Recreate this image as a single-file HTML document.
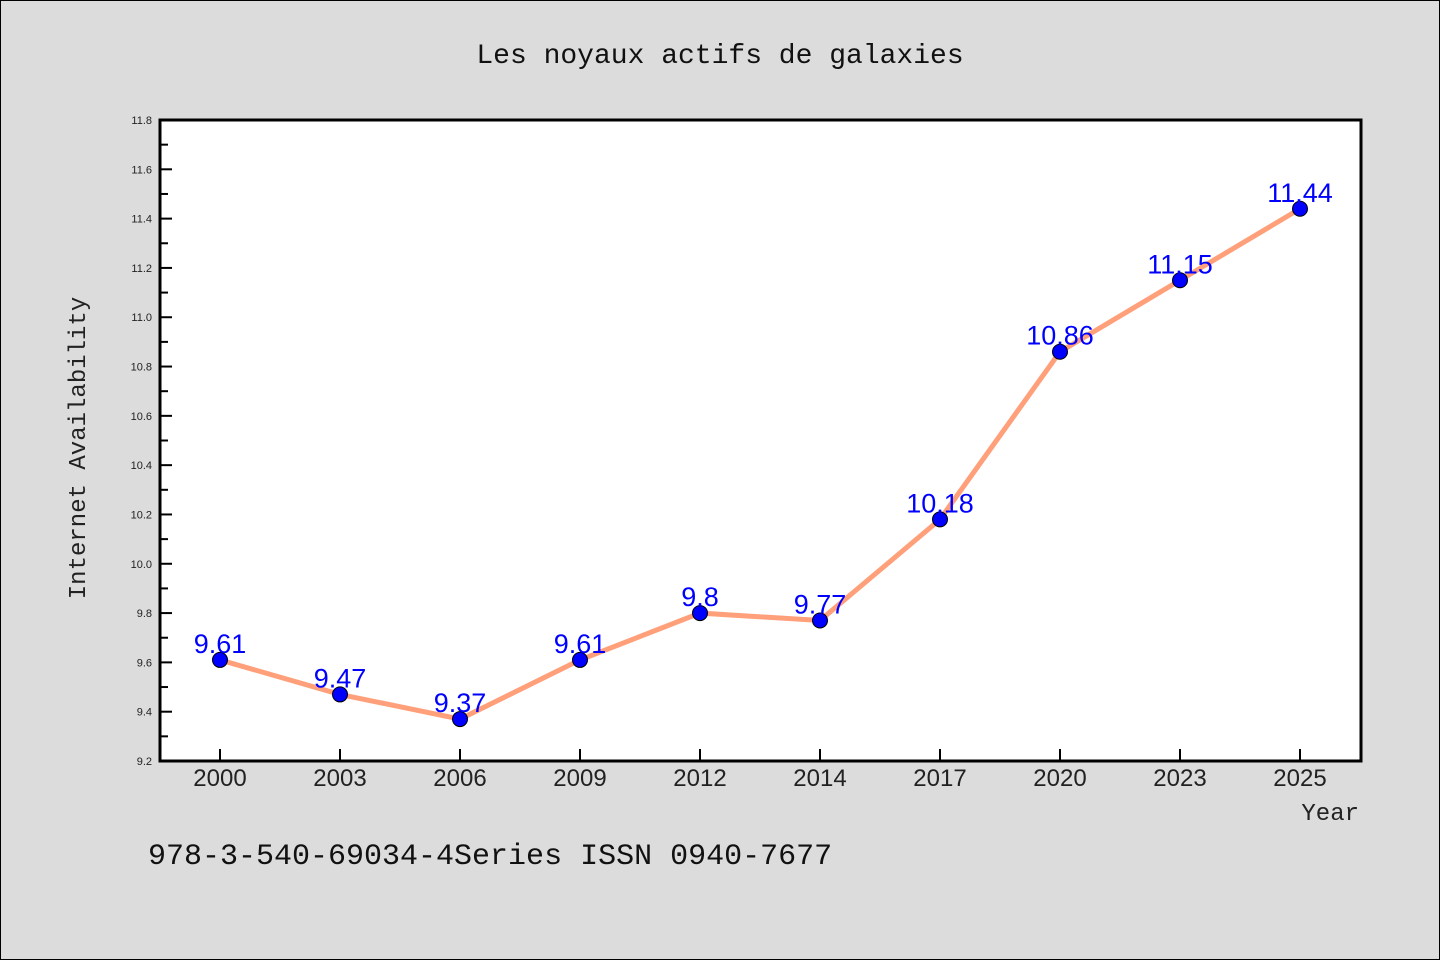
<!DOCTYPE html>
<html><head><meta charset="utf-8"><style>
body{margin:0;background:#dcdcdc;}
svg{display:block;font-family:"Liberation Mono","DejaVu Sans Mono","WenQuanYi Zen Hei",monospace;}
</style></head><body>
<svg id="chart" width="1440" height="960">
<rect x="0.5" y="0.5" width="1439" height="959" fill="#dcdcdc" stroke="#000"/>
<text x="720" y="63" text-anchor="middle" font-size="28" fill="#111">Les noyaux actifs de galaxies</text>
<rect x="160" y="120" width="1201" height="641" fill="#fff"/>
<g id="yticks"></g><g id="xticks"></g>
<g id="series"></g>
<path d="M160 120 H1361 V761 H160 Z" fill="none" stroke="#000" stroke-width="3"/>
<text transform="translate(85,448) rotate(-90)" text-anchor="middle" font-size="24" fill="#222">Internet Availability</text>
<text x="1359" y="820" text-anchor="end" font-size="24" fill="#222">Year</text>
<text x="148" y="864" font-size="30" fill="#111">978-3-540-69034-4Series ISSN 0940-7677</text>
</svg>
<script>
const years=["2000","2003","2006","2009","2012","2014","2017","2020","2023","2025"];
const values=[9.61,9.47,9.37,9.61,9.8,9.77,10.18,10.86,11.15,11.44];
const yTickLabels=["9.2","9.4","9.6","9.8","10.0","10.2","10.4","10.6","10.8","11.0","11.2","11.4","11.6","11.8"];
const yMin=9.2,yMax=11.8;
const ns="http://www.w3.org/2000/svg";
function y(v){return 761-(v-yMin)/(yMax-yMin)*641;}
function x(i){return 220+i*120;}
function mk(t,a,p){const e=document.createElementNS(ns,t);for(const k in a)e.setAttribute(k,a[k]);p.appendChild(e);return e;}
const yt=document.getElementById('yticks');
yTickLabels.forEach((l,i)=>{const v=parseFloat(l),yy=y(v);
 const ln=mk('line',{x1:160,x2:172,y1:yy,y2:yy,stroke:'#000','stroke-width':2},yt);
 
 
 const t=mk('text',{x:152,y:yy+4,'text-anchor':'end','font-size':11,fill:'#222','font-family':'Liberation Sans, sans-serif'},yt);t.textContent=l;
 
 
 if(i<yTickLabels.length-1){const m=y(v+0.1);const mn=mk('line',{x1:160,x2:168,y1:m,y2:m,stroke:'#000','stroke-width':2},yt);
 
 }
});
const xt=document.getElementById('xticks');
years.forEach((yr,i)=>{const ln=mk('line',{x1:x(i),x2:x(i),y1:761,y2:749,stroke:'#000','stroke-width':2},xt);
 
 
 const t=mk('text',{x:x(i),y:786,'text-anchor':'middle','font-size':24,fill:'#222','font-family':'Liberation Sans, sans-serif'},xt);t.textContent=yr;
 
 
});
const s=document.getElementById('series');
const line=mk('polyline',{points:values.map((v,i)=>x(i)+','+y(v)).join(' '),fill:'none',stroke:'#ffa07a','stroke-width':5},s);


values.forEach((v,i)=>{const c=mk('circle',{cx:x(i),cy:y(v),r:7.5,fill:'#0000ff',stroke:'#000','stroke-width':1},s);
 
 
 const t=mk('text',{x:x(i),y:y(v)-7,'text-anchor':'middle','font-size':27,fill:'#0000ff','font-family':'Liberation Sans, sans-serif'},s);t.textContent=String(v);
 
 
});
</script>
</body></html>
